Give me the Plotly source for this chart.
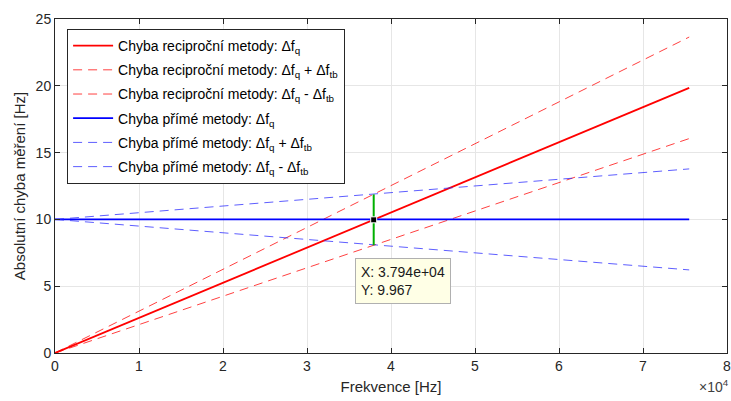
import plotly.graph_objects as go

# Data
freq = [0, 75500]
recip = [0.0, 19.85]
recip_plus = [0.0, 23.65]
recip_minus = [0.0, 16.05]
direct = [10.0, 10.0]
direct_plus = [10.0, 13.78]
direct_minus = [10.0, 6.22]

tip_x = 37940
tip_y = 9.967
tip_range = [8.07, 11.87]

x_tickvals = [0, 10000, 20000, 30000, 40000, 50000, 60000, 70000, 80000]
x_ticktext = ["0", "1", "2", "3", "4", "5", "6", "7", "8"]
y_tickvals = [0, 5, 10, 15, 20, 25]

names = [
    "Chyba reciproční metody: Δf<sub>q</sub>",
    "Chyba reciproční metody: Δf<sub>q</sub> + Δf<sub>tb</sub>",
    "Chyba reciproční metody: Δf<sub>q</sub> - Δf<sub>tb</sub>",
    "Chyba přímé metody: Δf<sub>q</sub>",
    "Chyba přímé metody: Δf<sub>q</sub> + Δf<sub>tb</sub>",
    "Chyba přímé metody: Δf<sub>q</sub> - Δf<sub>tb</sub>",
]
series = [recip, recip_plus, recip_minus, direct, direct_plus, direct_minus]
colors = ["#ff0000", "rgba(255,0,0,0.75)", "rgba(255,0,0,0.75)",
          "#0000ff", "rgba(40,40,255,0.75)", "rgba(40,40,255,0.75)"]
dashes = ["solid", "9px,6px", "9px,6px", "solid", "9px,6px", "9px,6px"]
widths = [1.8, 1.0, 1.0, 1.8, 1.0, 1.0]

fig = go.Figure()
for i, (n, s, c, d, w) in enumerate(zip(names, series, colors, dashes, widths)):
    fig.add_trace(go.Scatter(x=freq, y=s, mode="lines", name=n, legendgroup=f"g{i}",
                             line=dict(color=c, dash=d, width=w)))

fig.add_trace(go.Scatter(x=[tip_x, tip_x], y=tip_range, mode="lines",
                         line=dict(color="#00b000", width=2), showlegend=False))
fig.add_trace(go.Scatter(x=[tip_x], y=[tip_y], mode="markers",
                         marker=dict(symbol="square", size=6, color="black",
                                     line=dict(color="white", width=1)),
                         showlegend=False))

fig.add_annotation(x=tip_x, y=tip_y, xref="x", yref="y",
                   text="X: 3.794e+04<br>Y: 9.967", showarrow=False,
                   xanchor="left", yanchor="top", xshift=-19, yshift=-38,
                   align="left", bgcolor="#ffffe6", bordercolor="#b0b0b0",
                   borderwidth=1, borderpad=5,
                   font=dict(size=14, color="#1a1a1a"))

fig.add_annotation(x=1.0, y=0, xref="paper", yref="paper",
                   text="×10<sup>4</sup>", showarrow=False,
                   xanchor="right", yanchor="top", yshift=-22, xshift=4,
                   font=dict(size=14, color="#404040"))

axis_common = dict(showline=True, linecolor="#262626", linewidth=1, mirror="ticks",
                   ticks="inside", ticklen=5, tickcolor="#262626",
                   showgrid=True, gridcolor="#e6e6e6", gridwidth=1,
                   zeroline=False, tickfont=dict(size=14, color="#262626"),
                   automargin=False, ticklabeloverflow="allow")

fig.update_xaxes(range=[0, 80000], tickvals=x_tickvals, ticktext=x_ticktext,
                 title=dict(text="Frekvence [Hz]", font=dict(size=15, color="#262626"), standoff=8),
                 **axis_common)
fig.update_yaxes(range=[0, 25], tickvals=y_tickvals,
                 title=dict(text="Absolutní chyba měření [Hz]", font=dict(size=15, color="#262626"), standoff=6),
                 **axis_common)

fig.update_layout(
    width=731, height=401,
    margin=dict(l=55, r=4, t=19, b=48),
    paper_bgcolor="white", plot_bgcolor="white",
    font=dict(family="Liberation Sans, Arial, Helvetica, sans-serif", color="#262626"),
    legend=dict(x=0.018, y=0.97, xanchor="left", yanchor="top",
                bgcolor="white", bordercolor="#262626", borderwidth=1,
                font=dict(size=14, color="#000000"), tracegroupgap=3,
                itemwidth=40),
    showlegend=True,
)

fig.write_html("out.html", config={"displayModeBar": False},
               post_script="document.body.style.margin='0';document.body.style.overflow='hidden';")
